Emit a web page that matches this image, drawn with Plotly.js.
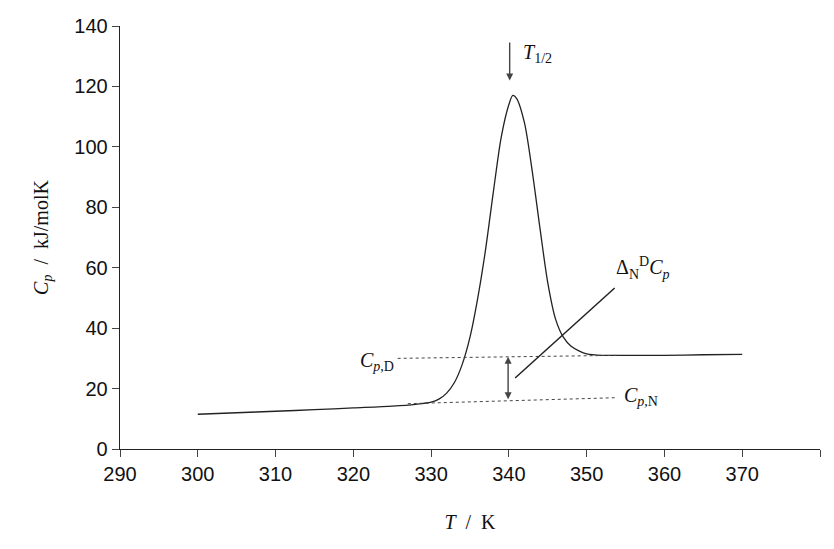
<!DOCTYPE html>
<html>
<head>
<script src="https://cdn.plot.ly/plotly-3.0.1.min.js"></script>
<style>body{margin:0;background:#fff}</style>
</head>
<body>
<div id="plot" style="width:834px;height:549px"></div>
<script>
// heat capacity curve
const temp_k = [300, 305, 310, 315, 320, 325, 328, 330, 331, 332, 333, 334, 335, 336, 337, 338, 339, 340, 340.5, 341, 342, 343, 344, 345, 346, 347, 348, 349, 350, 352, 355, 360, 365, 370];
const cp_vals = [11.5, 12, 12.5, 13, 13.6, 14.2, 14.8, 15.5, 16.5, 18.5, 22, 28, 37, 50, 66, 85, 103, 114, 117, 116, 108, 92, 73, 55, 43, 37, 34, 32.5, 31.5, 31, 31, 31, 31.2, 31.3];

// baselines (dotted)
const base_d_t = [325.7, 354];
const base_d_cp = [30, 31];
const base_n_t = [327, 354];
const base_n_cp = [15, 17];

// double arrow and pointer line
const arrow_t = 339.9;
const arrow_lo = 16;
const arrow_hi = 30.5;
const pointer_t = [340.8, 353.6];
const pointer_cp = [23.5, 53.3];

const x_ticks = [290, 300, 310, 320, 330, 340, 350, 360, 370, 380];

const serif = 'Liberation Serif, Times New Roman, serif';

const traces = [
    { x: temp_k, y: cp_vals, mode: 'lines', line: { color: '#222', width: 1.3, shape: 'spline', smoothing: 0.8 } },
    { x: base_d_t, y: base_d_cp, mode: 'lines', line: { color: '#444', width: 1, dash: 'dot' } },
    { x: base_n_t, y: base_n_cp, mode: 'lines', line: { color: '#444', width: 1, dash: 'dot' } },
    { x: pointer_t, y: pointer_cp, mode: 'lines', line: { color: '#222', width: 1.5 } }
];

const annotations = [
    // double-headed arrow
    { x: arrow_t, y: arrow_hi, ax: arrow_t, ay: arrow_lo, xref: 'x', yref: 'y', axref: 'x', ayref: 'y',
      showarrow: true, arrowhead: 2, arrowside: 'end+start', arrowwidth: 1.4, arrowsize: 1, text: '' },
    // T1/2 arrow
    { x: arrow_t + 0.2, y: 122, ax: arrow_t + 0.2, ay: 135, xref: 'x', yref: 'y', axref: 'x', ayref: 'y',
      showarrow: true, arrowhead: 2, arrowwidth: 1.4, arrowsize: 1, text: '' },
    { x: 341.5, y: 131, xref: 'x', yref: 'y', xanchor: 'left', showarrow: false,
      text: '<i>T</i><sub>1/2</sub>', font: { family: serif, size: 20, color: '#111' } },
    { x: 353.5, y: 60, xref: 'x', yref: 'y', xanchor: 'left', showarrow: false,
      text: 'Δ<sub>N</sub><sup>D</sup><i>C<sub>p</sub></i>', font: { family: serif, size: 20, color: '#111' } },
    { x: 325.5, y: 29, xref: 'x', yref: 'y', xanchor: 'right', showarrow: false,
      text: '<i>C<sub>p</sub></i><sub>,D</sub>', font: { family: serif, size: 20, color: '#111' } },
    { x: 354.5, y: 17.5, xref: 'x', yref: 'y', xanchor: 'left', showarrow: false,
      text: '<i>C<sub>p</sub></i><sub>,N</sub>', font: { family: serif, size: 20, color: '#111' } }
];

const layout = {
    width: 834, height: 549,
    margin: { l: 120, r: 14, t: 26, b: 100 },
    showlegend: false,
    paper_bgcolor: '#fff', plot_bgcolor: '#fff',
    font: { family: 'Liberation Sans, Arial, sans-serif', size: 20, color: '#111' },
    xaxis: {
        range: [290, 380], tickvals: x_ticks, ticks: 'outside', ticklen: 7,
        showgrid: false, zeroline: false, showline: true, linecolor: '#222', linewidth: 1.3,
        title: { text: '<i>T</i>  /  K', font: { family: serif, size: 20 }, standoff: 30 }
    },
    yaxis: {
        range: [0, 140], dtick: 20, ticks: 'outside', ticklen: 7,
        showgrid: false, zeroline: false, showline: true, linecolor: '#222', linewidth: 1.3,
        title: { text: '<i>C<sub>p</sub></i>  /  kJ/molK', font: { family: serif, size: 20 }, standoff: 20 }
    },
    annotations: annotations
};

Plotly.newPlot('plot', traces, layout, { displayModeBar: false, staticPlot: true });
</script>
</body>
</html>
